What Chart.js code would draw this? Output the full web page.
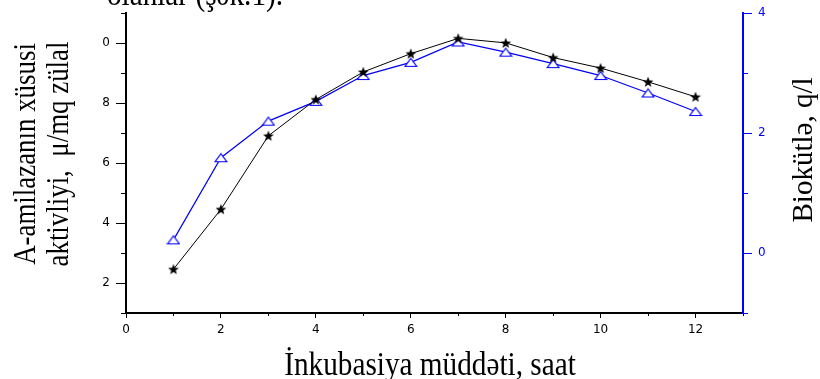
<!DOCTYPE html>
<html>
<head>
<meta charset="utf-8">
<script src="https://cdn.jsdelivr.net/npm/chart.js@4"></script>
<style>
  html, body { margin: 0; padding: 0; background: #fff; }
  canvas { display: block; }
</style>
</head>
<body>
<canvas id="myChart" width="820" height="379"></canvas>
<script>
// values
const hours = [1, 2, 3, 4, 5, 6, 7, 8, 9, 10, 11, 12];
const activity = [2.46, 4.46, 6.91, 8.12, 9.04, 9.65, 10.16, 10.01, 9.52, 9.17, 8.71, 8.21];
const biomass = [0.22, 1.59, 2.2, 2.53, 2.96, 3.18, 3.52, 3.35, 3.16, 2.96, 2.67, 2.36];

const xTickLabels = { 0: '0', 2: '2', 4: '4', 6: '6', 8: '8', 10: '10', 12: '12' };
const leftTickLabels = { 2: '2', 4: '4', 6: '6', 8: '8', 10: '0' };
const rightTickLabels = { 0: '0', 2: '2', 4: '4' };

const xTitle = 'İnkubasiya müddəti, saat';
const leftTitle = ['A-amilazanın xüsusi', 'aktivliyi,  μ/mq zülal'];
const rightTitle = 'Biokütlə, q/l';
const topText = 'olanlar (şək.1).';

const BLUE = 'rgb(0,0,255)';

function starMarker() {
  const c = document.createElement('canvas');
  c.width = 12; c.height = 12;
  const g = c.getContext('2d');
  g.fillStyle = '#000';
  g.beginPath();
  for (let i = 0; i < 10; i++) {
    const r = i % 2 ? 2.4 : 5.6;
    const a = -Math.PI / 2 + i * Math.PI / 5;
    const px = 6 + Math.cos(a) * r, py = 6.4 + Math.sin(a) * r;
    if (i === 0) g.moveTo(px, py); else g.lineTo(px, py);
  }
  g.closePath();
  g.fill();
  return c;
}

function triangleMarker() {
  const c = document.createElement('canvas');
  c.width = 14; c.height = 11;
  const g = c.getContext('2d');
  g.beginPath();
  g.moveTo(7, 1.5);
  g.lineTo(12.8, 9.5);
  g.lineTo(1.2, 9.5);
  g.closePath();
  g.fillStyle = '#fff';
  g.fill();
  g.strokeStyle = BLUE;
  g.lineWidth = 1.2;
  g.stroke();
  return c;
}

function majorColor(color) {
  return (c) => (c.tick && Math.abs(c.tick.value % 2) === 1) ? 'rgba(0,0,0,0)' : color;
}

function drawText(ctx, text, x, y, rot, size, sx, color) {
  ctx.save();
  ctx.translate(x, y);
  ctx.rotate(rot);
  ctx.scale(sx, 1);
  ctx.font = size + 'px "Liberation Serif", "Times New Roman", serif';
  ctx.fillStyle = color;
  ctx.textAlign = 'center';
  ctx.textBaseline = 'alphabetic';
  ctx.fillText(text, 0, 0);
  ctx.restore();
}

// minor ticks (shorter) and the titles
const extras = {
  id: 'extras',
  afterDraw(chart) {
    const ctx = chart.ctx;
    const { x, y, y1 } = chart.scales;
    ctx.save();
    ctx.lineWidth = 1;
    ctx.strokeStyle = '#000';
    ctx.beginPath();
    for (let v = 1; v <= 13; v += 2) {
      const px = Math.round(x.getPixelForValue(v)) + 0.5;
      ctx.moveTo(px, x.top); ctx.lineTo(px, x.top + 3);
    }
    for (let v = 1; v <= 11; v += 2) {
      const py = Math.round(y.getPixelForValue(v)) + 0.5;
      ctx.moveTo(y.right, py); ctx.lineTo(y.right - 5, py);
    }
    ctx.stroke();
    ctx.strokeStyle = BLUE;
    ctx.beginPath();
    for (let v = -1; v <= 3; v += 2) {
      const py = Math.round(y1.getPixelForValue(v)) + 0.5;
      ctx.moveTo(y1.left, py); ctx.lineTo(y1.left + 5, py);
    }
    ctx.stroke();
    ctx.restore();

    drawText(ctx, topText, 195, 4.5, 0, 34, 0.86, '#000');
    drawText(ctx, leftTitle[0], 35, 154, -Math.PI / 2, 32, 0.84, '#000');
    drawText(ctx, leftTitle[1], 68, 154, -Math.PI / 2, 32, 0.84, '#000');
    drawText(ctx, rightTitle, 812, 150, -Math.PI / 2, 29, 1, '#000');
    drawText(ctx, xTitle, 430, 375, 0, 34, 0.86, '#000');
  }
};

const tickFont = { family: '"DejaVu Sans", sans-serif', size: 12 };

const chart = new Chart('myChart', {
  type: 'line',
  data: {
    datasets: [
      {
        label: 'A-amilaza',
        data: hours.map((h, i) => ({ x: h, y: activity[i] })),
        yAxisID: 'y',
        borderColor: '#000',
        borderWidth: 1,
        pointStyle: starMarker(),
        pointRadius: 5,
        tension: 0
      },
      {
        label: 'Biokütlə',
        data: hours.map((h, i) => ({ x: h, y: biomass[i] })),
        yAxisID: 'y1',
        borderColor: BLUE,
        borderWidth: 1.2,
        pointStyle: triangleMarker(),
        pointRadius: 6,
        tension: 0
      }
    ]
  },
  options: {
    responsive: false,
    animation: false,
    layout: { padding: { top: 13, left: 0, right: 0, bottom: 0 } },
    plugins: { legend: { display: false }, tooltip: { enabled: false } },
    scales: {
      x: {
        type: 'linear',
        position: 'bottom',
        min: 0, max: 13,
        afterFit: (s) => { s.height = 66; },
        border: { display: true, color: '#000', width: 2 },
        grid: { drawOnChartArea: false, tickLength: 5, tickColor: majorColor('#000') },
        ticks: {
          stepSize: 1, autoSkip: false, maxRotation: 0, padding: 5,
          color: '#000', font: tickFont,
          callback: (v) => xTickLabels[v] ?? ''
        }
      },
      y: {
        type: 'linear',
        position: 'left',
        min: 1, max: 11,
        afterFit: (s) => { s.width = 126; },
        border: { display: true, color: '#000', width: 2 },
        grid: { drawOnChartArea: false, tickLength: 10, tickColor: majorColor('#000') },
        ticks: {
          stepSize: 1, autoSkip: false, padding: 6,
          color: '#000', font: tickFont,
          callback: (v) => leftTickLabels[v] ?? ''
        }
      },
      y1: {
        type: 'linear',
        position: 'right',
        min: -1, max: 4,
        afterFit: (s) => { s.width = 77; },
        border: { display: true, color: BLUE, width: 2 },
        grid: { drawOnChartArea: false, tickLength: 9, tickColor: majorColor(BLUE) },
        ticks: {
          stepSize: 1, autoSkip: false, padding: 6,
          color: BLUE, font: tickFont,
          callback: (v) => rightTickLabels[v] ?? ''
        }
      }
    }
  },
  plugins: [extras]
});
</script>
</body>
</html>
